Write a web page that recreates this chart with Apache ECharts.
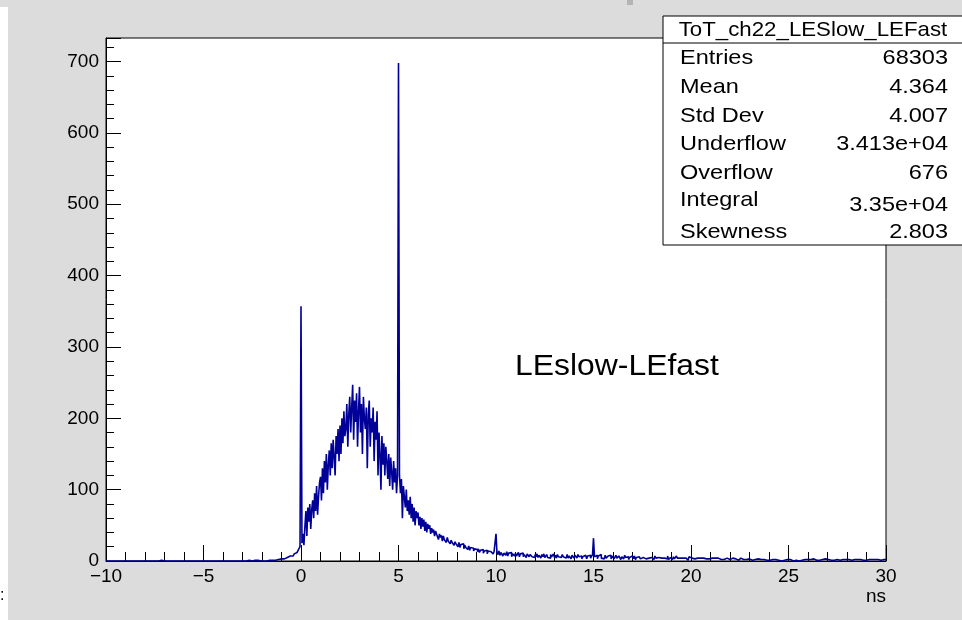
<!DOCTYPE html>
<html>
<head>
<meta charset="utf-8">
<script src="https://cdn.jsdelivr.net/npm/echarts@6/dist/echarts.min.js"></script>
<style>
html,body{margin:0;padding:0;background:#dcdcdc;}
#chart{width:962px;height:620px;}
</style>
</head>
<body>
<div id="chart"></div>
<script>
// Histogram binning (bin left edges start at xMin, step binWidth)
const xMin = -10;
const xMax = 30;
const binWidth = 0.05;
const yMax = 733;

// Tick labels
const xTickLabels = ["\u221210", "\u22125", "0", "5", "10", "15", "20", "25", "30"];
const yTickLabels = ["0", "100", "200", "300", "400", "500", "600", "700"];

// Bin counts
// -10 .. -2.05
const countsNeg = [
  0,0,0,0,0,0,0,0,0,0,0,0,0,0,0,0,0,0,0,0,
  0,0,0,0,0,0,0,0,0,0,0,0,0,0,0,0,0,0,0,0,
  0,0,0,0,0,0,0,0,0,0,0,0,0,0,0,0,1,0,0,0,
  0,0,0,0,0,0,0,0,0,0,0,0,0,0,0,0,0,0,0,0,
  0,0,0,0,0,0,0,0,0,0,0,0,0,0,0,0,0,0,0,1,
  1,0,0,0,0,0,0,0,1,0,0,0,0,0,0,0,0,0,0,0,
  0,0,0,1,0,0,0,0,0,0,0,0,0,0,0,1,0,0,0,0,
  0,0,1,0,0,0,1,1,0,0,0,0,1,0,0,1,0,1,0,1
];
// -2 .. -0.05
const countsRise = [
  1,0,1,1,0,2,1,1,2,1,1,2,2,1,3,2,2,3,2,3,
  3,4,3,5,4,5,6,5,7,6,8,7,9,10,9,12,13,15,17,20
];
// 0 .. 4.95
const countsPeak = [
  357,25,38,22,48,70,35,75,55,80,45,72,85,60,95,70,105,65,90,110,
  118,85,130,95,140,110,150,100,135,155,120,165,130,170,145,120,175,150,185,140,
  190,150,200,165,210,175,185,220,160,205,230,180,215,247,170,225,195,235,160,210,
  244,180,220,150,230,200,185,215,130,205,225,160,200,180,215,140,195,170,210,120,
  180,150,100,175,135,165,120,160,140,115,150,105,145,125,100,140,110,130,95,120
];
// 5 .. 9.95
const countsFall = [
  698,120,95,115,60,105,90,75,100,70,85,65,90,60,80,55,75,50,70,60,
  68,50,62,45,60,48,58,42,55,40,52,45,50,38,46,40,44,35,42,38,
  40,30,38,33,36,28,35,30,32,26,33,28,30,24,29,26,28,22,27,24,
  25,20,26,19,23,21,24,17,22,19,20,16,21,15,19,17,18,14,17,15,
  16,13,17,12,15,14,16,11,14,13,15,10,14,12,13,11,14,10,13,12
];
// 10 .. 19.95
const countsTail = [
  38,12,9,14,8,12,13,7,11,10,8,13,7,11,9,12,6,10,9,7,
  11,7,9,12,6,10,8,11,6,9,8,5,10,8,6,9,11,6,8,5,
  9,6,10,5,8,7,4,9,6,10,5,7,9,5,7,4,9,6,7,10,
  5,8,4,9,6,7,5,4,9,6,8,4,6,9,4,7,6,3,8,6,
  4,8,6,4,9,6,4,7,3,6,5,8,6,3,7,5,8,4,6,9,
  32,6,4,8,3,7,5,9,4,6,3,5,8,4,3,7,5,8,3,5,
  7,3,5,8,4,3,7,5,2,6,5,3,8,5,3,6,2,5,4,7,
  5,3,7,2,5,4,6,7,3,2,5,4,7,3,5,2,4,6,3,5,
  3,6,2,7,4,2,5,3,7,4,2,5,4,2,6,3,7,2,4,5,
  4,2,6,3,2,7,4,2,4,6,2,4,3,6,4,2,4,1,6,4
];
// 20 .. 29.95
const countsFar = [
  4,3,5,3,4,2,4,5,3,4,3,2,4,3,5,3,4,2,3,4,
  3,4,2,3,4,3,2,4,3,5,2,3,4,2,3,3,4,2,3,2,
  3,2,4,3,2,3,4,2,1,3,2,4,3,2,3,1,2,3,2,3,
  2,3,1,2,3,2,1,2,3,1,2,2,1,3,2,1,2,1,2,3,
  1,2,1,2,1,0,2,1,2,1,1,2,0,1,2,1,1,0,2,1,
  1,2,1,1,0,2,1,1,2,1,0,1,2,1,1,0,2,1,1,2,
  1,3,2,1,2,3,1,2,1,2,3,1,2,1,2,1,2,3,1,2,
  2,1,2,1,3,2,1,2,1,2,1,3,1,2,1,2,1,2,2,1,
  1,2,1,3,1,2,1,2,1,1,2,3,1,2,1,2,1,1,2,1,
  2,1,2,1,1,2,3,1,2,1,1,2,1,2,1,3,1,2,1,2
];

// Stats box texts
const statsTitle = "ToT_ch22_LESlow_LEFast";
const statsNames = ["Entries", "Mean", "Std Dev", "Underflow", "Overflow", "Integral", "Skewness"];
const statsValues = ["68303", "4.364", "4.007", "3.413e+04", "676", "3.35e+04", "2.803"];

const counts = [].concat(countsNeg, countsRise, countsPeak, countsFall, countsTail, countsFar);
const histData = counts.map((c, i) => [+(xMin + i * binWidth).toFixed(2), c]);
histData.push([xMax, counts[counts.length - 1]]);

const FONT = "Liberation Sans, Arial, Helvetica, sans-serif";
const chart = echarts.init(document.getElementById('chart'));

const rowY = [58, 87, 116, 144, 173, 200, 232];
const statsChildren = [
  { type: 'rect', shape: { x: 663, y: 16, width: 310, height: 229 },
    style: { fill: '#ffffff', stroke: '#000000', lineWidth: 1 } },
  { type: 'line', shape: { x1: 663, y1: 43, x2: 962, y2: 43 },
    style: { stroke: '#000000', lineWidth: 1 } },
  { type: 'text', x: 813, y: 30, scaleX: 1.06,
    style: { text: statsTitle, font: '21px ' + FONT, fill: '#000', align: 'center', verticalAlign: 'middle' } }
];
statsNames.forEach((n, i) => {
  statsChildren.push({ type: 'text', x: 680, y: rowY[i], scaleX: 1.12,
    style: { text: n, font: '21px ' + FONT, fill: '#000', align: 'left', verticalAlign: 'middle' } });
  statsChildren.push({ type: 'text', x: 948, y: rowY[i] + (i === 5 ? 5 : 0), scaleX: 1.12,
    style: { text: statsValues[i], font: '21px ' + FONT, fill: '#000', align: 'right', verticalAlign: 'middle' } });
});

const option = {
  animation: false,
  backgroundColor: '#dcdcdc',
  grid: {
    left: 106, top: 38, width: 780, height: 523,
    show: true, backgroundColor: '#ffffff', borderColor: '#000000', borderWidth: 1
  },
  xAxis: {
    type: 'value', min: xMin, max: xMax, interval: 5,
    axisLine: { show: true, onZero: false, lineStyle: { color: '#000', width: 1 } },
    axisTick: { show: true, inside: true, length: 16, lineStyle: { color: '#000', width: 1 } },
    minorTick: { show: true, splitNumber: 5, length: 9, lineStyle: { color: '#000', width: 1 } },
    splitLine: { show: false },
    axisLabel: {
      margin: 6, fontSize: 19, fontFamily: FONT, color: '#000',
      formatter: v => xTickLabels[Math.round((v - xMin) / 5)]
    }
  },
  yAxis: {
    type: 'value', min: 0, max: yMax, interval: 100,
    axisLine: { show: true, onZero: false, lineStyle: { color: '#000', width: 1 } },
    axisTick: { show: true, inside: true, length: 15, lineStyle: { color: '#000', width: 1 } },
    minorTick: { show: true, splitNumber: 5, length: 8, lineStyle: { color: '#000', width: 1 } },
    splitLine: { show: false },
    axisLabel: {
      margin: 7, fontSize: 19, fontFamily: FONT, color: '#000', showMaxLabel: false,
      formatter: v => (v % 100 === 0 ? yTickLabels[v / 100] : '')
    }
  },
  series: [{
    type: 'line', step: 'end', data: histData, showSymbol: false, symbol: 'none',
    lineStyle: { color: '#000099', width: 1.6 }, clip: true
  }],
  graphic: [
    { type: 'rect', shape: { x: 0, y: 7, width: 8, height: 613 }, style: { fill: '#ffffff' } },
    { type: 'rect', shape: { x: 627, y: 0, width: 6, height: 5 }, style: { fill: '#b4b4b4' } },
    { type: 'text', x: 0, y: 596, style: { text: ':', font: '16px ' + FONT, fill: '#000', verticalAlign: 'middle' } },
    { type: 'text', x: 886, y: 597,
      style: { text: 'ns', font: '19px ' + FONT, fill: '#000', align: 'right', verticalAlign: 'middle' } },
    { type: 'text', x: 515, y: 367, scaleX: 1.1,
      style: { text: 'LEslow-LEfast', font: '29px ' + FONT, fill: '#000', align: 'left', verticalAlign: 'middle' } },
    { type: 'group', children: statsChildren }
  ]
};
chart.setOption(option);
</script>
</body>
</html>
